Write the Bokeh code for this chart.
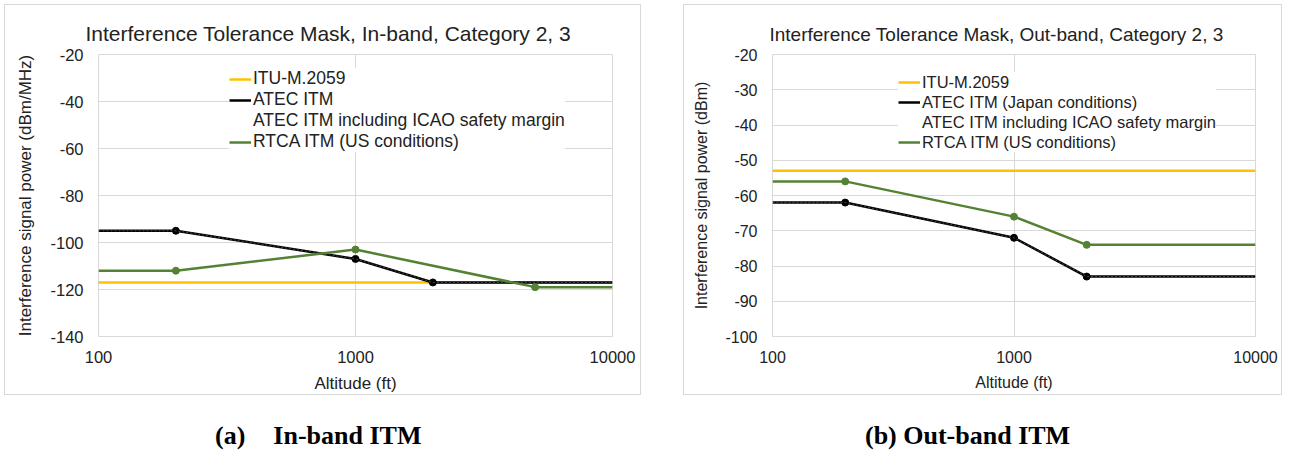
from bokeh.plotting import figure
from bokeh.models import FixedTicker, PrintfTickFormatter, Legend, LegendItem, Div
from bokeh.layouts import row, column
from bokeh.embed import file_html
from bokeh.resources import INLINE

# ---------------- data ----------------
x_ticks = [100, 1000, 10000]

# (a) In-band
in_itu_x = [100, 10000]
in_itu_y = [-117, -117]
in_atec_x = [100, 200, 1000, 2000, 10000]
in_atec_y = [-95, -95, -107, -117, -117]
in_icao_x = [100, 200, 1000, 2000, 10000]
in_icao_y = [-95, -95, -107, -117, -117]
in_rtca_x = [100, 200, 1000, 5000, 10000]
in_rtca_y = [-112, -112, -103, -119, -119]
in_yticks = [-140, -120, -100, -80, -60, -40, -20]

# (b) Out-band
out_itu_x = [100, 10000]
out_itu_y = [-53, -53]
out_atec_x = [100, 200, 1000, 2000, 10000]
out_atec_y = [-62, -62, -72, -83, -83]
out_icao_x = [100, 200, 1000, 2000, 10000]
out_icao_y = [-62, -62, -72, -83, -83]
out_rtca_x = [100, 200, 1000, 2000, 10000]
out_rtca_y = [-56, -56, -66, -74, -74]
out_yticks = [-100, -90, -80, -70, -60, -50, -40, -30, -20]

YELLOW = "#FFC000"
GREEN = "#548235"
BLACK = "#000000"
GRID = "#D9D9D9"
TXT = "#222222"
FONT = "Liberation Sans"


def make_fig(width, b_left, b_right, yr, yticks, ylabel, title, title_offset,
             series, atec_label, legend_x, fs):
    p = figure(width=width, height=391, x_axis_type="log", x_range=(100, 10000),
               y_range=yr, output_backend="svg", toolbar_location=None,
               min_border_left=b_left, min_border_right=b_right,
               min_border_top=49, min_border_bottom=60)
    p.styles = {"border": "1px solid #D9D9D9"}
    p.outline_line_color = GRID
    p.outline_line_width = 1

    p.title.text = title
    p.title.text_font = FONT
    p.title.text_font_size = fs["title"]
    p.title.text_font_style = "normal"
    p.title.text_color = TXT
    p.title.align = "left"
    p.title.vertical_align = "top"
    p.title.offset = title_offset
    p.title.standoff = 16

    p.xaxis.ticker = FixedTicker(ticks=x_ticks, minor_ticks=[])
    p.xaxis.formatter = PrintfTickFormatter(format="%d")
    p.yaxis.ticker = FixedTicker(ticks=yticks, minor_ticks=[])
    p.yaxis.formatter = PrintfTickFormatter(format="%d")
    for ax in (p.xaxis[0], p.yaxis[0]):
        ax.axis_line_color = None
        ax.major_tick_line_color = None
        ax.minor_tick_line_color = None
        ax.major_tick_out = 0
        ax.major_tick_in = 0
        ax.major_label_text_font = FONT
        ax.major_label_text_font_size = fs["tick"]
        ax.major_label_text_color = TXT
        ax.axis_label_text_font = FONT
        ax.axis_label_text_font_size = fs["axis"]
        ax.axis_label_text_font_style = "normal"
        ax.axis_label_text_color = TXT
    p.xaxis.axis_label = "Altitude (ft)"
    p.yaxis.axis_label = ylabel
    p.xaxis.major_label_standoff = 14
    p.yaxis.major_label_standoff = 15
    p.xaxis.axis_label_standoff = 8
    p.yaxis.axis_label_standoff = 12

    p.xgrid.grid_line_color = GRID
    p.ygrid.grid_line_color = GRID

    (itu_x, itu_y), (atec_x, atec_y), (icao_x, icao_y), (rtca_x, rtca_y) = series

    r_itu = p.line(itu_x, itu_y, line_color=YELLOW, line_width=2.5)
    r_atec = p.line(atec_x, atec_y, line_color=BLACK, line_width=2.5)
    p.scatter(atec_x[1:-1], atec_y[1:-1], size=7, color=BLACK)
    r_icao = p.line(icao_x, icao_y, line_color="white", line_width=0.8,
                    line_alpha=0.35, line_dash="2 2")
    r_rtca = p.line(rtca_x, rtca_y, line_color=GREEN, line_width=2.5)
    p.scatter(rtca_x[1:-1], rtca_y[1:-1], size=7, color=GREEN)

    legend = Legend(items=[
        LegendItem(label="ITU-M.2059", renderers=[r_itu]),
        LegendItem(label=atec_label, renderers=[r_atec]),
        LegendItem(label="ATEC ITM including ICAO safety margin", renderers=[r_icao]),
        LegendItem(label="RTCA ITM (US conditions)", renderers=[r_rtca]),
    ], location=(legend_x, 184))
    legend.label_text_font = FONT
    legend.label_text_font_size = fs["legend"]
    legend.label_text_color = TXT
    legend.glyph_width = 22
    legend.glyph_height = 20
    legend.label_height = 20
    legend.spacing = 0
    legend.padding = 11
    legend.margin = 0
    legend.label_standoff = 2
    legend.border_line_color = None
    legend.background_fill_color = "white"
    legend.background_fill_alpha = 1
    p.add_layout(legend)
    return p


p1 = make_fig(637, 93, 30, (-140, -20), in_yticks,
              "Interference signal power (dBm/MHz)",
              "Interference Tolerance Mask, In-band, Category 2, 3", -13,
              [(in_itu_x, in_itu_y), (in_atec_x, in_atec_y),
               (in_icao_x, in_icao_y), (in_rtca_x, in_rtca_y)],
              "ATEC ITM", 131,
              dict(title="21px", tick="16.5px", axis="17px", legend="17.5px"))

p2 = make_fig(599, 88, 28, (-100, -20), out_yticks,
              "Interference signal power (dBm)",
              "Interference Tolerance Mask, Out-band, Category 2, 3", -3,
              [(out_itu_x, out_itu_y), (out_atec_x, out_atec_y),
               (out_icao_x, out_icao_y), (out_rtca_x, out_rtca_y)],
              "ATEC ITM (Japan conditions)", 126,
              dict(title="19px", tick="16px", axis="16px", legend="16.5px"))

cap_style = ("font-family:'Liberation Serif';font-weight:bold;font-size:26px;"
             "color:#000;white-space:pre;line-height:30px;")
div_a = Div(text=f'<div style="{cap_style}padding-left:206px;">(a)<span style="margin-left:28px">In-band ITM</span></div>',
            width=637, height=30)
div_b = Div(text=f'<div style="{cap_style}padding-left:167px;">(b) Out-band ITM</div>',
            width=599, height=30)

layout = column(row(p1, p2, spacing=42), row(div_a, div_b, spacing=42), spacing=21)
layout.margin = (4, 0, 0, 4)

open("out.html", "w").write(file_html(layout, INLINE))
